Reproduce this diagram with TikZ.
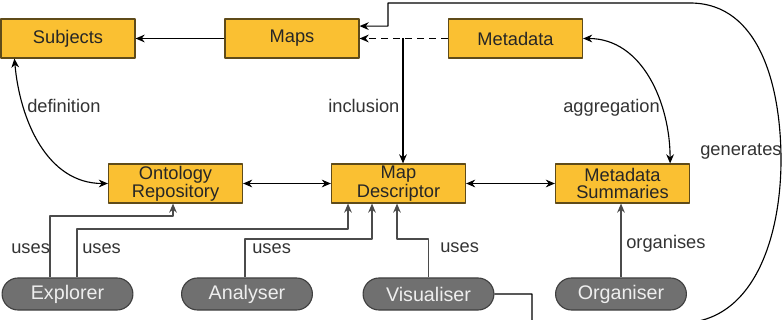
\documentclass[tikz,border=0pt]{standalone}
\usepackage{fontspec}
\setmainfont{Liberation Sans}
\usetikzlibrary{arrows.meta}
\definecolor{boxfill}{RGB}{250,192,50}
\definecolor{boxline}{RGB}{95,75,25}
\definecolor{pillfill}{RGB}{112,112,112}
\definecolor{pilltext}{RGB}{238,238,238}
\definecolor{useline}{RGB}{75,75,75}
\begin{document}
\begin{tikzpicture}[x=0.025cm, y=-0.025cm, line join=round, >={Stealth[length=6.5pt,width=5.5pt]},
  store/.style={draw=boxline, fill=boxfill, line width=0.8pt, minimum width=3.35cm, minimum height=0.975cm,
    inner sep=1pt, align=center, text=black!85, font=\fontsize{13}{11.5}\selectfont},
  tool/.style={draw=black!75, fill=pillfill, line width=0.8pt, rounded corners=0.4cm, minimum width=3.27cm,
    minimum height=0.8cm, text=pilltext, font=\fontsize{14}{14}\selectfont},
  link/.style={line width=0.8pt},
  uses/.style={line width=0.95pt, draw=useline},
  lbl/.style={inner sep=0pt, anchor=base west, text=black!80, font=\fontsize{13}{13}\selectfont}]
% Frame of the picture
\clip (0,0) rectangle (784,320);
% Stores
\node[store] (subj) at (68,38.5) {Subjects};
\node[store] (maps) at (292,38.5) {Maps};
\node[store] (meta) at (515.5,38.5) {Metadata};
\node[store] (onto) at (175.5,183.5) {Ontology\\Repository};
\node[store] (desc) at (398.5,183.5) {Map\\Descriptor};
\node[store] (summ) at (622.5,183.5) {Metadata\\Summaries};
% Tools
\node[tool] (explorer) at (67.5,294) {Explorer};
\node[tool] (analyser) at (247,294) {Analyser};
\node[tool] (visualiser) at (428.5,294) {Visualiser};
\node[tool] (organiser) at (621,294) {Organiser};
% Top row
\draw[link,->] (maps) -- (subj);
\draw[link,->,dash pattern=on 5pt off 3.5pt] (meta.west) -- (maps.east);
\coordinate (incl) at (403,38.5);
\draw[link,->] (incl) -- (incl |- desc.north);
% Curved links
\draw[link,<->] ([xshift=0.35cm]subj.south west) to[out=-85,in=180] (onto.west);
\draw[link,<->] (meta.east) to[out=0,in=90] ([xshift=1.19cm]summ.north);
% Middle row
\draw[link,<->] (onto) -- (desc);
\draw[link,<->] (desc) -- (summ);
% Uses
\coordinate (kExpl1) at (173,216);
\coordinate (kExpl2) at (348,229);
\coordinate (kAnal) at (372,239);
\coordinate (kVis) at (397,239);
\draw[uses,->] ([xshift=-0.44cm]explorer.north) |- (kExpl1) -- (kExpl1 |- onto.south);
\draw[uses,->] ([xshift=0.24cm]explorer.north) |- (kExpl2) -- (kExpl2 |- desc.south);
\draw[uses,->] ([xshift=-0.05cm]analyser.north) |- (kAnal) -- (kAnal |- desc.south);
\draw[uses,->] (visualiser.north) |- (kVis) -- (kVis |- desc.south);
\draw[uses,->] (organiser.north) -- (organiser.north |- summ.south);
% Generates
\coordinate (gDown) at (532,323);
\coordinate (gCorner) at (680,323);
\coordinate (gRight) at (781,160);
\coordinate (gTop) at (690,3);
\coordinate (gBack) at (388,3);
\draw[link,->] (visualiser.east) -| (gDown) -- (gCorner) to[out=0,in=-90] (gRight)
  to[out=90,in=0] (gTop) -- (gBack) |- ([yshift=0.31cm]maps.east);
% Labels
\node[lbl] (lDef) at (27,113) {definition};
\node[lbl] (lIncl) at (328,113) {inclusion};
\node[lbl] (lAggr) at (563,113) {aggregation};
\node[lbl] (lGen) at (700,156) {generates};
\node[lbl] (lUse1) at (11,254) {uses};
\node[lbl] (lUse2) at (82,254) {uses};
\node[lbl] (lUse3) at (252,254) {uses};
\node[lbl] (lUse4) at (440,253) {uses};
\node[lbl] (lOrg) at (626,249) {organises};
\end{tikzpicture}
\end{document}
